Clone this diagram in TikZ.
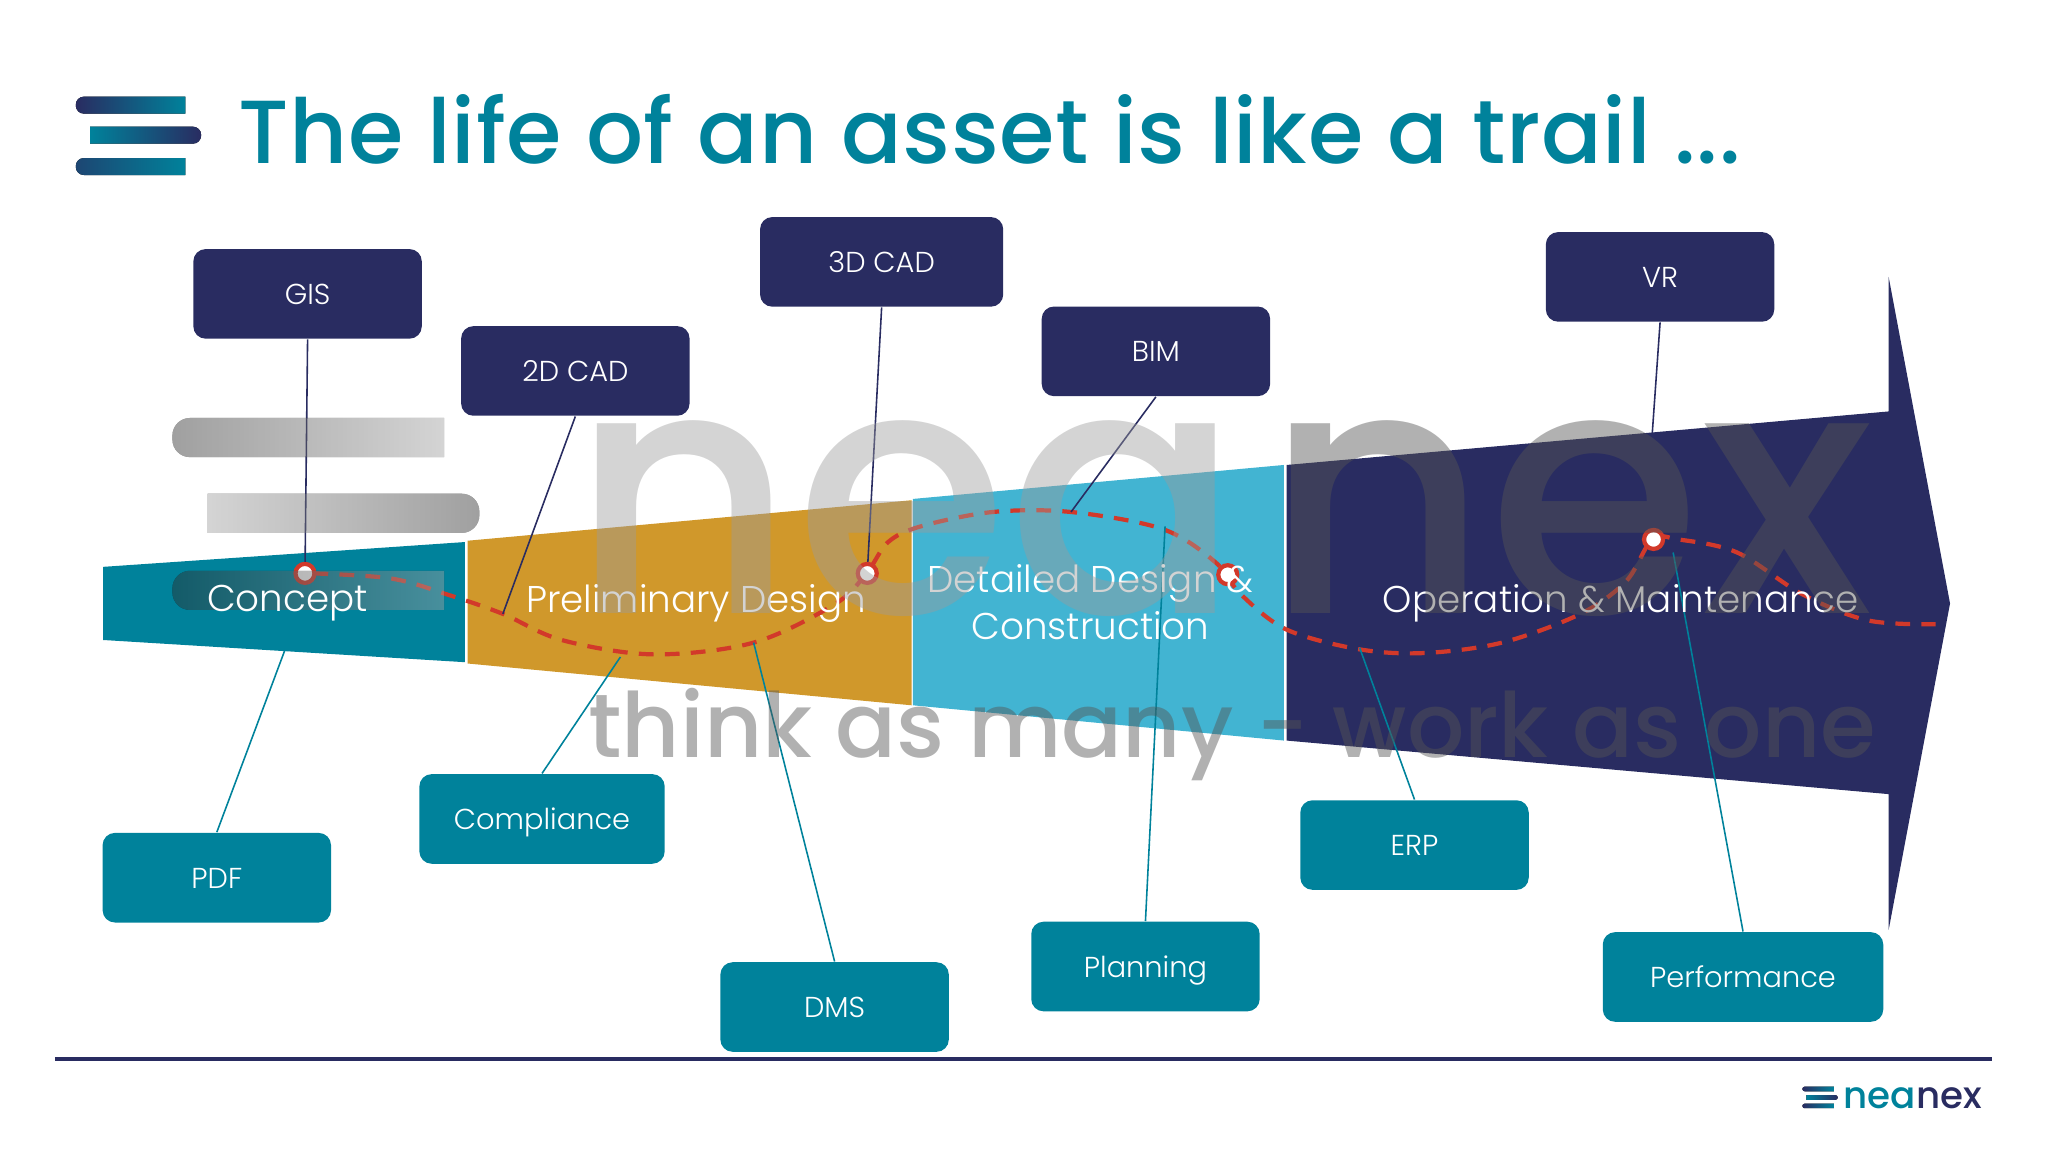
\documentclass[tikz,border=0pt]{standalone}
\usepackage{fontspec}
\setmainfont{Poppins}[UprightFont=* Light]
\newfontfamily\titlefont{Poppins}[UprightFont=* Medium, LetterSpace=.75]
\newfontfamily\markfont{Poppins}[UprightFont=* Medium]
\usepackage{xcolor}
\definecolor{assetteal}{RGB}{0,130,155}
\definecolor{assetnavy}{RGB}{41,44,97}
\definecolor{assetorange}{RGB}{208,152,43}
\definecolor{assetsky}{RGB}{66,180,210}
\definecolor{trailred}{RGB}{210,57,42}
\definecolor{markgrey}{RGB}{155,155,155}
\definecolor{markdark}{RGB}{85,85,85}
\definecolor{markdeep}{RGB}{44,44,44}
\definecolor{marklight}{RGB}{160,160,160}

\begin{document}
\begin{tikzpicture}[
    x=0.0130612cm, y=-0.0130612cm,
    toolbox/.style={draw=none, fill=assetnavy, rounded corners=3.5pt, minimum width=65pt, minimum height=25.5pt, inner sep=0pt, text height=6pt, text depth=0pt, text=white, font=\fontsize{8.2}{10}\selectfont},
    usebox/.style={toolbox, fill=assetteal},
    toolline/.style={draw=assetnavy, line width=0.45pt},
    useline/.style={draw=assetteal, line width=0.45pt},
    phase/.style={text=white, align=center, inner sep=0pt, font=\fontsize{10.6}{13.4}\selectfont},
    trail/.style={draw=trailred, line width=1.2pt, dash pattern=on 4.2pt off 3.2pt},
    pin/.style={circle, draw=trailred, fill=white, line width=1.2pt, minimum size=5.4pt, inner sep=0pt},
    watermark/.style={anchor=base west, inner sep=0pt, text=markgrey, text opacity=.43},
]
\useasboundingbox (0,0) rectangle (1568,882);

% phases
\fill[assetteal] (79,434) -- (356,415) -- (356,507) -- (79,490) -- cycle;
\fill[assetorange] (358,414) -- (698,383) -- (698,540) -- (358,508) -- cycle;
\fill[assetsky] (699,382) -- (983,356) -- (983,567) -- (699,540) -- cycle;
\fill[assetnavy] (985,356) -- (1446,315) -- (1446,212) -- (1493,462) -- (1446,712) -- (1446,608) -- (985,567) -- cycle;

% title and logo
\node[anchor=base west, inner sep=0pt, text=assetteal, font=\titlefont\fontsize{25.5}{30}\selectfont] (title) at (182,125) {The life of an asset is like a trail ...};
\fill[left color=assetnavy, right color=assetteal] (142,74) [rounded corners=2.3pt] -- (58,74) -- (58,87) [sharp corners] -- (142,87) -- cycle;
\fill[left color=assetteal, right color=assetnavy] (69,97) [rounded corners=2.3pt] -- (154,97) -- (154,110) [sharp corners] -- (69,110) -- cycle;
\fill[left color=assetnavy!70!assetteal, right color=assetteal] (142,121) [rounded corners=2.3pt] -- (58,121) -- (58,134) [sharp corners] -- (142,134) -- cycle;

% tools above
\node[toolbox] (gis) at (235.5,225) {GIS};
\node[toolbox] (cad2d) at (440.5,284) {2D CAD};
\node[toolbox, minimum width=69.2pt] (cad3d) at (675,200.5) {3D CAD};
\node[toolbox] (bim) at (885,269) {BIM};
\node[toolbox] (vr) at (1271,212) {VR};

% tools below
\node[usebox] (pdf) at (166,672) {PDF};
\node[usebox, minimum width=69.8pt] (compliance) at (415,627) {Compliance};
\node[usebox] (dms) at (639,771) {DMS};
\node[usebox] (planning) at (877,740) {Planning};
\node[usebox] (erp) at (1083,647) {ERP};
\node[usebox, minimum width=79.8pt] (performance) at (1334.5,748) {Performance};

% free ends
\coordinate (cad2dend) at (385,470);
\coordinate (bimend) at (820,392);
\coordinate (vrend) at (1265,332);
\coordinate (pdfend) at (218,498);
\coordinate (complianceend) at (475,503);
\coordinate (dmsend) at (577,492);
\coordinate (planningend) at (892,403);
\coordinate (erpend) at (1041,496);
\coordinate (performanceend) at (1281,423);

% trail
\draw[trail] plot[smooth, tension=.55] coordinates {(240,439) (300,443) (345,456) (385,470) (430,490) (500,501) (577,492) (640,462) (664,438) (680,415) (705,403) (760,392) (820,392) (890,405) (930,430) (950,455) (985,482) (1040,497) (1090,500) (1150,492) (1210,470) (1245,445) (1265,413) (1285,413) (1330,423) (1380,455) (1430,475) (1482,478)};

\node[pin] (pinconcept) at (233.5,439) {};
\node[pin] (pinprelim) at (664,439) {};
\node[pin] (pindetail) at (940,440) {};
\node[pin] (pinoperate) at (1266,413) {};

\draw[toolline] (gis.south) -- (pinconcept);
\draw[toolline] (cad2d.south) -- (cad2dend);
\draw[toolline] (cad3d.south) -- (pinprelim);
\draw[toolline] (bim.south) -- (bimend);
\draw[toolline] (vr.south) -- (vrend);
\draw[useline] (pdf.north) -- (pdfend);
\draw[useline] (compliance.north) -- (complianceend);
\draw[useline] (dms.north) -- (dmsend);
\draw[useline] (planning.north) -- (planningend);
\draw[useline] (erp.north) -- (erpend);
\draw[useline] (performance.north) -- (performanceend);

% watermark bars
\begin{scope}[transparency group, opacity=.45]
\fill[left color=markdeep, right color=marklight] (340,320) [rounded corners=5pt] -- (132,320) -- (132,350) [sharp corners] -- (340,350) -- cycle;
\fill[left color=marklight, right color=markdeep] (159,378) [rounded corners=5pt] -- (367,378) -- (367,408) [sharp corners] -- (159,408) -- cycle;
\fill[left color=markdeep, right color=marklight] (340,437) [rounded corners=5pt] -- (132,437) -- (132,467) [sharp corners] -- (340,467) -- cycle;
\end{scope}

% phase names
\node[phase] (concept) at (220,462) {Concept};
\node[phase] (prelim) at (533,462) {Preliminary Design};
\node[phase] (detail) at (835,461) {Detailed Design \&\\Construction};
\node[phase] (operate) at (1241,462) {Operation \& Maintenance};

% watermark
\node[watermark, font=\markfont\fontsize{98}{98}\selectfont] (marknea) at (437,470) {nea};
\node[watermark, text=markdark, text opacity=.46, font=\markfont\fontsize{98}{98}\selectfont] (marknex) at (968,470) {nex};
\node[watermark, text=markdark, text opacity=.46, font=\markfont\fontsize{25.6}{30}\selectfont] (markthink) at (450,580) {think as many - work as one};

% footer
\draw[assetnavy, line width=1.1pt] (42,811) -- (1525,811);
\fill[left color=assetnavy, right color=assetteal] (1404,832) [rounded corners=.6pt] -- (1380,832) -- (1380,835.5) [sharp corners] -- (1404,835.5) -- cycle;
\fill[left color=assetteal, right color=assetnavy] (1383,838.5) [rounded corners=.6pt] -- (1407,838.5) -- (1407,842) [sharp corners] -- (1383,842) -- cycle;
\fill[left color=assetnavy, right color=assetteal] (1404,845) [rounded corners=.6pt] -- (1380,845) -- (1380,848.5) [sharp corners] -- (1404,848.5) -- cycle;
\node[anchor=base west, inner sep=0pt, font=\markfont\fontsize{10.6}{12}\selectfont] (footername) at (1411,848.5) {\textcolor{assetteal}{nea}\textcolor{assetnavy}{nex}};
\end{tikzpicture}
\end{document}
